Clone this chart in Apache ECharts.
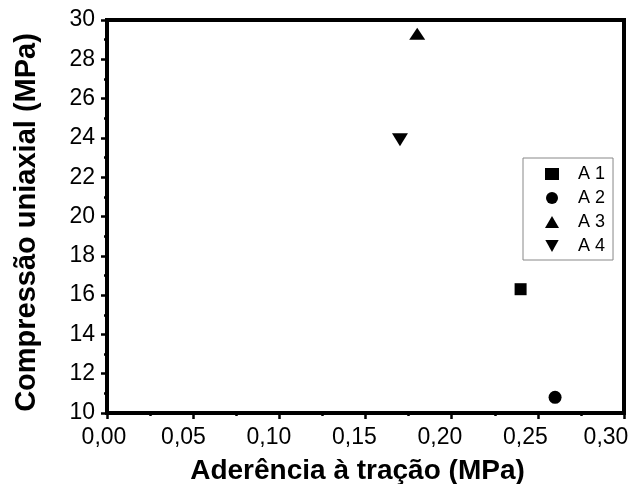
<!DOCTYPE html>
<html>
<head>
<meta charset="utf-8">
<script src="https://cdn.jsdelivr.net/npm/echarts@6/dist/echarts.min.js"></script>
<style>
  html, body { margin: 0; padding: 0; background: #fff; }
  #main { width: 633px; height: 484px; }
</style>
</head>
<body>
<div id="main"></div>
<script>
// pontos (aderência, compressão)
var seriesNames = ['A 1', 'A 2', 'A 3', 'A 4'];
var a1 = [[0.240, 16.3]];
var a2 = [[0.260, 10.8]];
var a3 = [[0.180, 29.3]];
var a4 = [[0.170, 23.9]];

var chart = echarts.init(document.getElementById('main'));

// no original os rótulos do eixo x ficam um pouco à esquerda dos ticks
function desvio(i) {
  if (i === 0) return 3;
  if (i === 6) return 18;
  return 9 + i * 0.7;
}
var richX = {};
for (var i = 0; i <= 6; i++) {
  richX['s' + i] = { fontSize: 23, color: '#000', padding: [0, 2 * desvio(i), 0, 0] };
}

function fmtVirgula(v) {
  var i = Math.round(v / 0.05);
  return '{s' + i + '|' + v.toFixed(2).replace('.', ',') + '}';
}

var option = {
  animation: false,
  textStyle: { fontFamily: 'Liberation Sans, Arial, sans-serif' },
  grid: {
    left: 107,
    right: 9,
    top: 20,
    bottom: 71,
    outerBoundsMode: 'none',
    show: true,
    borderColor: '#000',
    borderWidth: 4
  },
  legend: {
    orient: 'vertical',
    left: 523,
    top: 158,
    padding: [7, 8, 5, 22],
    itemWidth: 14,
    itemHeight: 12,
    itemGap: 6,
    borderColor: '#888',
    borderWidth: 1,
    textStyle: { fontSize: 18, color: '#000', padding: [0, 0, 0, 14] },
    data: seriesNames
  },
  xAxis: {
    type: 'value',
    min: 0,
    max: 0.3,
    interval: 0.05,
    name: 'Aderência à tração (MPa)',
    nameLocation: 'middle',
    nameGap: 44,
    nameTextStyle: { fontSize: 28, fontWeight: 'bold', color: '#000', padding: [0, 16, 0, 0] },
    axisLine: { show: true, lineStyle: { color: '#000', width: 4 } },
    axisTick: { show: true, length: 6, lineStyle: { color: '#000', width: 2.5 } },
    minorTick: { show: true, splitNumber: 2, length: 3, lineStyle: { color: '#000', width: 2.5 } },
    axisLabel: { fontSize: 23, color: '#000', margin: 13, formatter: fmtVirgula, rich: richX },
    splitLine: { show: false }
  },
  yAxis: {
    type: 'value',
    min: 10,
    max: 30,
    interval: 2,
    name: 'Compressão uniaxial (MPa)',
    nameLocation: 'middle',
    nameGap: 66,
    nameTextStyle: { fontSize: 29, fontWeight: 'bold', color: '#000', padding: [0, 12, 0, 0] },
    axisLine: { show: true, lineStyle: { color: '#000', width: 4 } },
    axisTick: { show: true, length: 6, lineStyle: { color: '#000', width: 2.5 } },
    minorTick: { show: true, splitNumber: 2, length: 3, lineStyle: { color: '#000', width: 2.5 } },
    axisLabel: { fontSize: 23, color: '#000', margin: 12 },
    splitLine: { show: false }
  },
  series: [
    { name: 'A 1', type: 'scatter', symbol: 'rect', symbolSize: 12,
      itemStyle: { color: '#000', opacity: 1 }, data: a1 },
    { name: 'A 2', type: 'scatter', symbol: 'circle', symbolSize: 13,
      itemStyle: { color: '#000', opacity: 1 }, data: a2 },
    { name: 'A 3', type: 'scatter', symbol: 'triangle', symbolSize: [16, 12],
      itemStyle: { color: '#000', opacity: 1 }, data: a3 },
    { name: 'A 4', type: 'scatter', symbol: 'path://M0,0 L10,0 L5,9 Z', symbolSize: [16, 13],
      itemStyle: { color: '#000', opacity: 1 }, data: a4 }
  ]
};

chart.setOption(option);
</script>
</body>
</html>
